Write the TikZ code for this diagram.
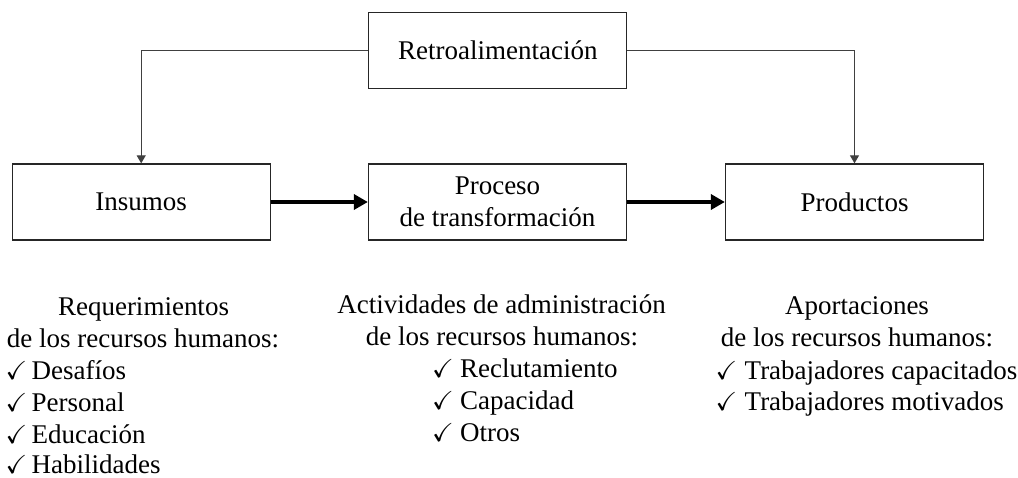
\documentclass[tikz,border=0pt]{standalone}
\usepackage{amssymb}
\usepackage{fontspec}
\setmainfont{Liberation Serif}
\usetikzlibrary{arrows.meta}
\newcommand\chk{{\fontsize{26pt}{26pt}\selectfont$\checkmark$}}
\begin{document}
\begin{tikzpicture}[x=1pt,y=-1pt,
  every node/.style={font=\fontsize{27pt}{32pt}\selectfont},
  box/.style={draw=black!85,line width=1.3pt,minimum width=258pt,minimum height=76pt,inner sep=0pt,align=center},
  txt/.style={inner sep=0pt,anchor=base},
  item/.style={inner sep=0pt,anchor=base west},
  fb/.style={draw=black!75,line width=1.2pt,-{Triangle[length=8pt,width=9pt]}},
  flow/.style={draw=black,line width=4pt,-{Triangle[length=14pt,width=15pt]}}]
\useasboundingbox (0,0) rectangle (1018,478);
\node[box] (retro) at (497.8,50.3) {Retroalimentación};
\node[box] (ins) at (141.2,202) {Insumos};
\node[box] (proc) at (497.5,202) {Proceso\\de transformación};
\node[box] (prod) at (854.5,202) {Productos};
\draw[fb] (retro.west) -| (ins.north);
\draw[fb] (retro.east) -| (prod.north);
\draw[flow] (ins.east) -- (proc.west);
\draw[flow] (proc.east) -- (prod.west);
% left column
\node[txt] (l1) at (143.5,316) {Requerimientos};
\node[txt] (l2) at (143,348) {de los recursos humanos:};
\node[item] (l3) at (5.5,380) {\makebox[26pt][l]{\chk}Desafíos};
\node[item] (l4) at (5.5,412) {\makebox[26pt][l]{\chk}Personal};
\node[item] (l5) at (5.5,443.5) {\makebox[26pt][l]{\chk}Educación};
\node[item] (l6) at (5.5,473.5) {\makebox[26pt][l]{\chk}Habilidades};
% middle column
\node[txt] (m1) at (501.5,313.5) {Actividades de administración};
\node[txt] (m2) at (502,345.5) {de los recursos humanos:};
\node[item] (m3) at (432,377.7) {\makebox[28pt][l]{\chk}Reclutamiento};
\node[item] (m4) at (432,409.5) {\makebox[28pt][l]{\chk}Capacidad};
\node[item] (m5) at (432,441.5) {\makebox[28pt][l]{\chk}Otros};
% right column
\node[txt] (r1) at (857,315) {Aportaciones};
\node[txt] (r2) at (857,347) {de los recursos humanos:};
\node[item] (r3) at (715.5,379.3) {\makebox[29pt][l]{\chk}Trabajadores capacitados};
\node[item] (r4) at (715.5,410.5) {\makebox[29pt][l]{\chk}Trabajadores motivados};
\end{tikzpicture}
\end{document}
